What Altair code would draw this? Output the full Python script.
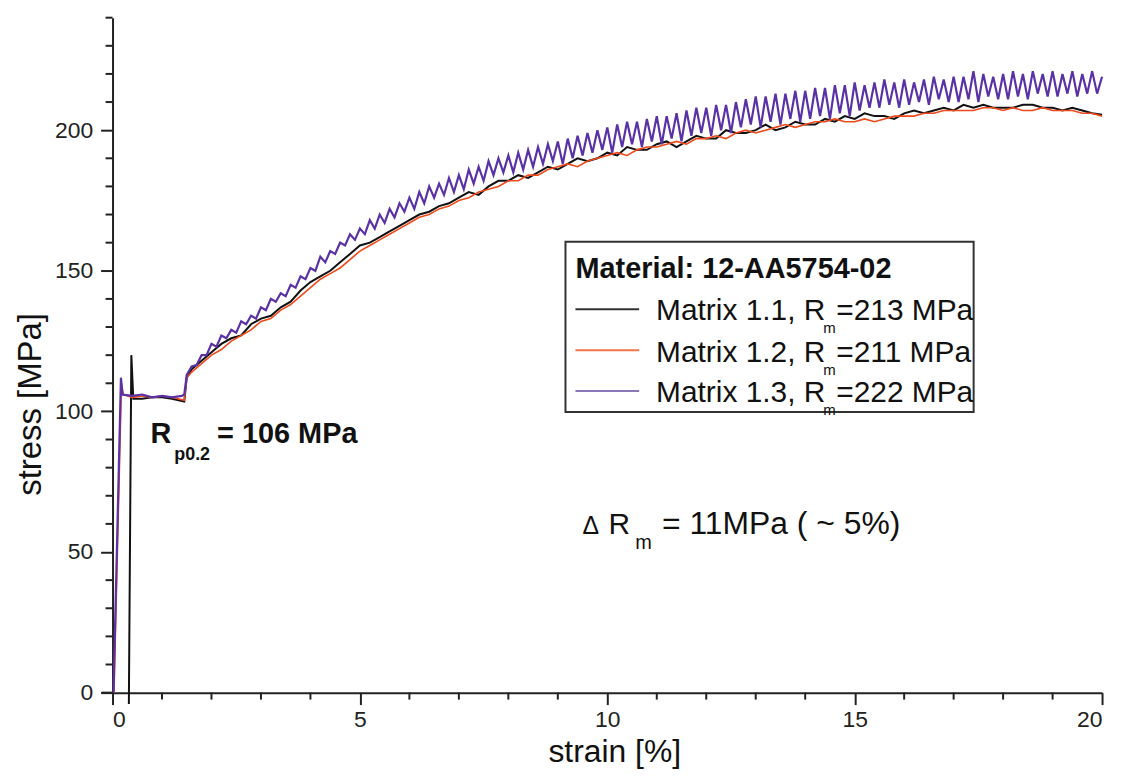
import altair as alt
import pandas as pd

FONT = "Liberation Sans"

# ---------------- data ----------------
# initial elastic part + Lueders plateau (strain %, stress MPa)
BLACK_INIT_X = [0.33, 0.38, 0.42, 0.6, 0.8, 1.0, 1.2, 1.45, 1.5]
BLACK_INIT_Y = [-4, 120, 104.5, 104.5, 105, 105, 104.5, 103.5, 112]
RED_INIT_X = [0.03, 0.18, 0.22, 0.4, 0.6, 0.8, 1.0, 1.2, 1.45, 1.5]
RED_INIT_Y = [0, 110, 106, 105, 105.5, 105, 105.5, 105, 104, 112]
PURPLE_INIT_X = [0.02, 0.17, 0.2, 0.4, 0.6, 0.8, 1.0, 1.2, 1.4, 1.45, 1.5]
PURPLE_INIT_Y = [0, 112, 106, 105.5, 106, 105, 105.5, 105, 105.5, 106, 113]

# hardening part, black and red read every 0.2 % from 1.6 %
BW_START, BW_STEP = 1.6, 0.2
BLACK_Y = [115, 118, 121,
           124, 126, 127, 131, 133,
           134, 137, 139, 143, 146,
           148, 150, 153, 156, 159,
           160, 162, 164, 166, 168,
           170, 171, 173, 174, 176,
           178, 177, 180, 182, 182,
           184, 183, 185, 187, 186,
           188, 190, 189, 190, 192,
           191, 194, 193, 193, 195,
           196, 194, 196, 198, 197,
           197, 200, 199, 199, 200,
           202, 200, 201, 203, 202,
           202, 204, 203, 205, 204,
           206, 205, 205, 204, 206,
           207, 206, 207, 208, 207,
           209, 208, 209, 208, 208,
           208, 209, 209, 208, 208,
           207, 208, 207, 206, 205.5]
RED_Y = [114, 117, 120,
         122, 125, 127, 129, 132,
         133, 136, 138, 141, 144,
         147, 149, 151, 154, 157,
         159, 161, 163, 165, 167,
         169, 170, 172, 173, 175,
         176, 178, 179, 180, 182,
         182, 184, 184, 186, 187,
         188, 187, 189, 190, 191,
         192, 191, 193, 194, 194,
         195, 196, 195, 197, 197,
         198, 197, 199, 200, 199,
         200, 201, 202, 201, 202,
         203, 203, 204, 203, 203,
         204, 203, 204, 205, 205,
         205, 206, 206, 207, 207,
         207, 207, 208, 208, 207,
         208, 207, 207, 208, 207,
         207, 207, 206, 206, 205]

# purple (noisy) read every 0.1 % from 1.6 %
P_START, P_STEP = 1.6, 0.1
PURPLE_Y = [116, 116.5, 120, 120, 124,
            123, 127, 126, 129, 128, 132, 131, 134, 133, 137,
            136, 140, 139, 142, 141, 145, 144, 148, 147, 151,
            150, 155, 153, 157, 156, 160, 159, 163, 161, 165,
            163, 168, 165, 170, 167, 172, 169, 174, 171, 176,
            172, 178, 174, 180, 176, 181, 177, 183, 178, 184,
            179, 186, 181, 187, 182, 189, 184, 190, 185, 191,
            185, 192, 186, 193, 187, 194, 188, 195, 189, 196,
            188, 197, 190, 198, 191, 199, 192, 200, 193, 201,
            192, 202, 194, 203, 195, 203, 194, 204, 196, 205,
            195, 205, 197, 206, 196, 207, 198, 208, 199, 208,
            198, 209, 200, 209, 199, 210, 201, 211, 202, 212,
            201, 212, 203, 213, 202, 213, 204, 214, 203, 214,
            204, 215, 205, 215, 204, 216, 206, 216, 205, 217,
            207, 216, 208, 217, 208, 218, 209, 217, 208, 218,
            209, 217, 210, 218, 209, 219, 211, 218, 210, 219,
            210, 219, 211, 221, 210, 220, 212, 219, 211, 220,
            211, 221, 212, 220, 211, 221, 213, 220, 212, 221,
            212, 220, 213, 221, 212, 220, 213, 221, 213, 219]

X_MAJOR = [0, 5, 10, 15, 20]
X_MINOR = [1, 2, 3, 4, 6, 7, 8, 9, 11, 12, 13, 14, 16, 17, 18, 19]
Y_MAJOR = [0, 50, 100, 150, 200]
Y_MINOR = [10, 20, 30, 40, 60, 70, 80, 90, 110, 120, 130, 140, 160, 170,
           180, 190, 210, 220, 230, 240]

SERIES = ["Matrix 1.1", "Matrix 1.2", "Matrix 1.3"]
COLORS = ["#111111", "#ee4a1c", "#5a32a6"]
LEGEND_COLORS = ["#333333", "#f07448", "#8a78b8"]
RM = ["=213 MPa", "=211 MPa", "=222 MPa"]


def build(init_x, init_y, start, step, ys, name):
    xs = list(init_x) + [round(start + step * i, 2) for i in range(len(ys))]
    yv = list(init_y) + list(ys)
    return pd.DataFrame({"strain": xs, "stress": yv, "idx": range(len(xs)), "series": name})


black = build(BLACK_INIT_X, BLACK_INIT_Y, BW_START, BW_STEP, BLACK_Y, SERIES[0])
red = build(RED_INIT_X, RED_INIT_Y, BW_START, BW_STEP, RED_Y, SERIES[1])
purple = build(PURPLE_INIT_X, PURPLE_INIT_Y, P_START, P_STEP, PURPLE_Y, SERIES[2])

W, H = 994, 678
xscale = alt.Scale(domain=[0, 20], nice=False, zero=False)
yscale = alt.Scale(domain=[0, 240], nice=False)

one = pd.DataFrame({"a": [0]})


def line(df, color, width):
    return alt.Chart(df).mark_line(color=color, strokeWidth=width, clip=False).encode(
        x=alt.X("strain:Q", scale=xscale,
                axis=alt.Axis(values=X_MAJOR, title="strain [%]", titleX=504, titleY=69,
                              titleFontSize=32, titleBaseline="alphabetic", format="d")),
        y=alt.Y("stress:Q", scale=yscale,
                axis=alt.Axis(values=Y_MAJOR, title="stress [MPa]", titleX=-82, titleY=388,
                              titleBaseline="middle")),
        order="idx:Q",
    )


def txt(s, x, y, size, weight="normal", align="left", color="#111111"):
    return alt.Chart(one).mark_text(
        text=s, font=FONT, fontSize=size, fontWeight=weight, align=align,
        baseline="alphabetic", color=color
    ).encode(x=alt.value(x), y=alt.value(y))


# minor ticks (positions through the scales)
xminor = alt.Chart(pd.DataFrame({"v": X_MINOR})).mark_rule(color="#222222", strokeWidth=2).encode(
    x=alt.X("v:Q", scale=xscale), y=alt.value(H), y2=alt.value(H + 7))
yminor = alt.Chart(pd.DataFrame({"v": Y_MINOR})).mark_rule(color="#222222", strokeWidth=2).encode(
    y=alt.Y("v:Q", scale=yscale), x=alt.value(0), x2=alt.value(-7))
xaxis_ext = alt.Chart(one).mark_rule(color="#222222", strokeWidth=2).encode(
    x=alt.value(-11), x2=alt.value(0), y=alt.value(H))

# legend box
box = alt.Chart(one).mark_rect(fill="white", stroke="#333333", strokeWidth=2).encode(
    x=alt.value(455), x2=alt.value(865), y=alt.value(225), y2=alt.value(396))

layers = [box, line(black, COLORS[0], 2), line(red, COLORS[1], 1.6),
          line(purple, COLORS[2], 2.2), xminor, yminor, xaxis_ext]

layers.append(txt("Material: 12-AA5754-02", 465, 261, 29, "bold"))
base_y = [304, 346, 386]
line_y = [293, 334, 375]
for i in range(3):
    layers.append(alt.Chart(one).mark_rule(color=LEGEND_COLORS[i], strokeWidth=2).encode(
        x=alt.value(465), x2=alt.value(529), y=alt.value(line_y[i])))
    layers.append(txt(SERIES[i] + ", R", 716, base_y[i], 30, align="right"))
    layers.append(txt("m", 714, base_y[i] + 13, 15))
    layers.append(txt(RM[i], 727, base_y[i], 30))

# R_p0.2 annotation
layers.append(txt("R", 59, 427, 29, "bold", align="right"))
layers.append(txt("p0.2", 62, 444, 18, "bold"))
layers.append(txt("= 106 MPa", 105, 427, 29, "bold"))

# delta R_m annotation
layers.append(txt("\u0394", 472, 519, 25))
layers.append(txt("R", 520, 519, 30, align="right"))
layers.append(txt("m", 525, 534, 20))
layers.append(txt("= 11MPa ( ~ 5%)", 552, 519, 32))

chart = alt.layer(*layers).properties(
    width=W, height=H,
    autosize=alt.AutoSizeParams(type="none"),
    padding={"left": 105, "top": 8, "right": 13, "bottom": 78},
).configure_view(stroke=None).configure_axis(
    grid=False,
    domainColor="#222222", domainWidth=2,
    tickColor="#222222", tickWidth=2, tickSize=12,
    labelFont=FONT, labelFontSize=23, labelColor="#222222", labelPadding=8,
    titleFont=FONT, titleFontSize=33, titleFontWeight="normal", titleColor="#111111",
).configure_axisX(labelPadding=4)

chart.save("out.html", embed_options={"renderer": "svg", "actions": False})
